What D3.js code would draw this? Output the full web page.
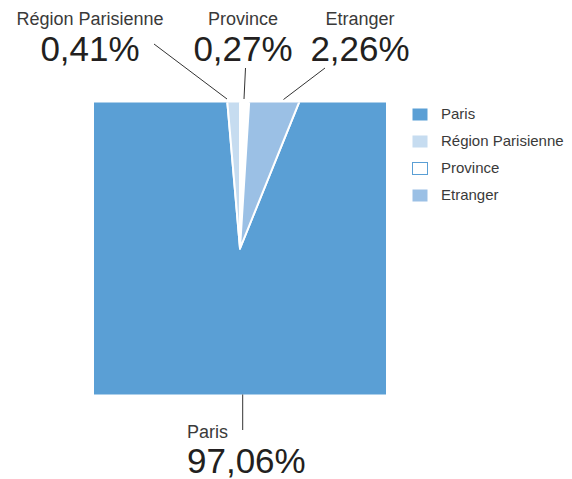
<!DOCTYPE html>
<html>
<head>
<meta charset="utf-8">
<script src="https://cdn.jsdelivr.net/npm/d3@7"></script>
<style>
	body { margin: 0; background: #fff; }
	svg { display: block; }
	text { font-family: "Liberation Sans", Arial, sans-serif; }
</style>
</head>
<body>
<svg id="chart" width="572" height="479"></svg>
<script>
// data
var categories = ["Paris", "Région Parisienne", "Province", "Etranger"];
var values = [97.06, 0.41, 0.27, 2.26];
var valueLabels = ["97,06%", "0,41%", "0,27%", "2,26%"];
var colors = ["#5a9fd5", "#c6dcf0", "#ffffff", "#9bc0e5"];

var svg = d3.select("#chart");

var cx = 240, cy = 248.5, half = 146;

// small slices are widened a little so they stay visible, as in the original
var angleScale = d3.scalePow().exponent(0.77).domain([0, 100]).range([0, 100]);

var data = categories.map(function(c, i) {
	return {name: c, value: values[i], label: valueLabels[i], color: colors[i]};
});

var pie = d3.pie().sort(null).value(function(d) { return angleScale(d.value); });
var offset = -pie(data)[1].endAngle;
pie.startAngle(offset).endAngle(offset + 2 * Math.PI);
var arcs = pie(data);

var arc = d3.arc().innerRadius(0).outerRadius(half * 2);

svg.append("clipPath")
	.attr("id", "square")
	.append("rect")
	.attr("x", cx - half)
	.attr("y", cy - half)
	.attr("width", half * 2)
	.attr("height", half * 2);

var g = svg.append("g")
	.attr("clip-path", "url(#square)")
	.append("g")
	.attr("transform", "translate(" + cx + "," + cy + ")");

g.selectAll("path")
	.data(arcs)
	.enter().append("path")
	.attr("d", arc)
	.attr("fill", function(d) { return d.data.color; })
	.attr("stroke", "#fff")
	.attr("stroke-width", 2)
	.attr("stroke-linejoin", "round");

// labels with leader lines
var labelPos = [
	{x: 187, anchor: "start", nameY: 438, valueY: 473, line: [[242.7, 394.5], [242.7, 430]]},
	{x: 90, anchor: "middle", nameY: 25, valueY: 61, line: [[154, 44], [227, 99]]},
	{x: 243, anchor: "middle", nameY: 25, valueY: 61, line: [[245.5, 68], [244, 99]]},
	{x: 360, anchor: "middle", nameY: 25, valueY: 61, line: [[325, 68], [283.5, 99.5]]}
];

var labels = svg.selectAll(".label")
	.data(data)
	.enter().append("g")
	.attr("class", "label");

labels.append("line")
	.attr("x1", function(d, i) { return labelPos[i].line[0][0]; })
	.attr("y1", function(d, i) { return labelPos[i].line[0][1]; })
	.attr("x2", function(d, i) { return labelPos[i].line[1][0]; })
	.attr("y2", function(d, i) { return labelPos[i].line[1][1]; })
	.attr("stroke", "#333")
	.attr("stroke-width", 1);

labels.append("text")
	.attr("x", function(d, i) { return labelPos[i].x; })
	.attr("y", function(d, i) { return labelPos[i].nameY; })
	.attr("text-anchor", function(d, i) { return labelPos[i].anchor; })
	.attr("font-size", 18)
	.attr("fill", "#3a3a3a")
	.text(function(d) { return d.name; });

labels.append("text")
	.attr("x", function(d, i) { return labelPos[i].x; })
	.attr("y", function(d, i) { return labelPos[i].valueY; })
	.attr("text-anchor", function(d, i) { return labelPos[i].anchor; })
	.attr("font-size", 35)
	.attr("fill", "#231f20")
	.text(function(d) { return d.label; });

// legend
var legend = svg.append("g")
	.attr("transform", "translate(412,108)");

var item = legend.selectAll("g")
	.data(data)
	.enter().append("g")
	.attr("transform", function(d, i) { return "translate(0," + i * 27 + ")"; });

item.append("rect")
	.attr("x", 0.5)
	.attr("y", 0.5)
	.attr("width", 15)
	.attr("height", 12)
	.attr("fill", function(d) { return d.color; })
	.attr("stroke", function(d, i) { return i == 2 ? colors[0] : "none"; });

item.append("text")
	.attr("x", 29)
	.attr("y", 11)
	.attr("font-size", 15)
	.attr("fill", "#3a3a3a")
	.text(function(d) { return d.name; });
</script>
</body>
</html>
